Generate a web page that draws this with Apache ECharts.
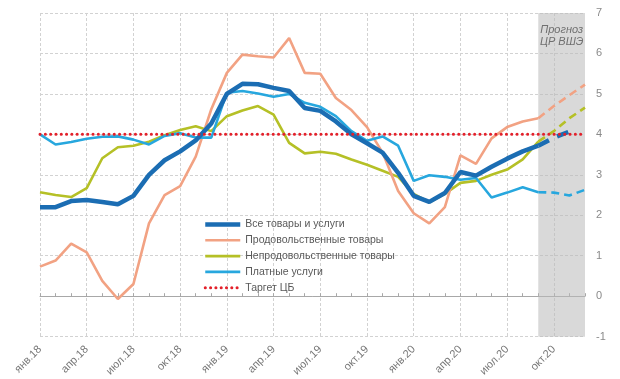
<!DOCTYPE html>
<html><head><meta charset="utf-8">
<script src="https://cdn.jsdelivr.net/npm/echarts@6/dist/echarts.min.js"></script>
<style>html,body{margin:0;padding:0;background:#fff}#c{width:620px;height:379px}</style>
</head><body><div id="c"></div>
<script>
const months = [
 'янв.18','фев.18','мар.18','апр.18','май.18','июн.18','июл.18','авг.18','сен.18','окт.18','ноя.18','дек.18',
 'янв.19','фев.19','мар.19','апр.19','май.19','июн.19','июл.19','авг.19','сен.19','окт.19','ноя.19','дек.19',
 'янв.20','фев.20','мар.20','апр.20','май.20','июн.20','июл.20','авг.20','сен.20','окт.20','ноя.20','дек.20'
];
// Actual values Jan18..Sep20
const total = [2.2, 2.2, 2.35, 2.38, 2.33, 2.27, 2.48, 3.0, 3.36, 3.58, 3.85, 4.27,
  5.0, 5.25, 5.24, 5.15, 5.07, 4.65, 4.58, 4.32, 4.0, 3.78, 3.55, 3.05,
  2.48, 2.33, 2.55, 3.07, 2.98, 3.2, 3.4, 3.58, 3.72];
const food = [0.73, 0.88, 1.3, 1.08, 0.38, -0.07, 0.3, 1.8, 2.5, 2.72, 3.45, 4.62,
  5.52, 5.97, 5.93, 5.9, 6.38, 5.52, 5.5, 4.9, 4.6, 4.18, 3.55, 2.6,
  2.05, 1.8, 2.2, 3.48, 3.27, 3.9, 4.18, 4.32, 4.4];
const nonfood = [2.57, 2.5, 2.45, 2.67, 3.41, 3.68, 3.72, 3.82, 3.98, 4.11, 4.2, 4.08,
  4.45, 4.59, 4.7, 4.49, 3.79, 3.53, 3.57, 3.52, 3.38, 3.25, 3.1, 2.95,
  2.53, 2.32, 2.53, 2.8, 2.85, 3.0, 3.13, 3.38, 3.82];
const services = [4.0, 3.75, 3.81, 3.89, 3.94, 3.95, 3.87, 3.75, 3.96, 4.03, 3.92, 3.92,
  5.03, 5.07, 5.01, 4.93, 5.0, 4.78, 4.68, 4.45, 4.08, 3.84, 3.95, 3.72,
  2.85, 2.99, 2.95, 2.88, 2.92, 2.44, 2.56, 2.69, 2.57];
// Forecast values from Sep20
const forecastMonths = ['сен.20','окт.20','ноя.20','дек.20'];
const totalF = [3.72, 3.92, 4.07];
const foodF = [4.4, 4.7, 4.97, 5.23];
const nonfoodF = [3.82, 4.08, 4.4, 4.66];
const servicesF = [2.57, 2.56, 2.49, 2.63];
const target = 4;
const yTicks = [-1, 7, 1];

const names = ['Все товары и услуги','Продовольственные товары','Непродовольственные товары','Платные услуги','Таргет ЦБ'];
const colors = ['#1b6db3','#f2a283','#b5c026','#27a7de','#e3202a'];

function fc(arr){ const out = months.map(()=>'-'); const s = months.indexOf(forecastMonths[0]); arr.forEach((v,k)=>{out[s+k]=v;}); return out; }
const FONT = 'Liberation Sans, Arial, sans-serif';
const grid = '#d2d2d2';
const hide = {opacity:0, color:'transparent', borderWidth:0};

const chart = echarts.init(document.getElementById('c'));
chart.setOption({
  animation:false,
  grid:{left:40,right:35,top:13,bottom:42},
  legend:{
    orient:'vertical', left:198, top:214, padding:5, itemWidth:35, itemHeight:12, itemGap:4.8,
    itemStyle:hide,
    textStyle:{fontSize:10.5, color:'#595959', fontFamily:FONT},
    data:[
      {name:names[0], lineStyle:{width:4.5}, itemStyle:hide},
      {name:names[1], lineStyle:{width:2.6}, itemStyle:hide},
      {name:names[2], lineStyle:{width:2.6}, itemStyle:hide},
      {name:names[3], lineStyle:{width:2.6}, itemStyle:hide},
      {name:names[4], lineStyle:{width:3, type:[0.1,5.2], cap:'round'}, itemStyle:hide}
    ]
  },
  xAxis:[
    {type:'category', data:months, boundaryGap:false, position:'bottom',
     axisLine:{show:false, onZero:false}, axisTick:{show:false},
     axisLabel:{interval:2, rotate:45, fontSize:11, color:'#777', margin:11, fontFamily:FONT},
     splitLine:{show:true, interval:2, lineStyle:{color:grid, type:[3,2], width:1}}},
    {type:'category', data:months, boundaryGap:false, position:'top',
     axisLine:{show:true, onZero:true, lineStyle:{color:'#a8a8a8', width:1}},
     axisTick:{show:true, interval:0, length:3, lineStyle:{color:'#a8a8a8'}},
     axisLabel:{show:false}, splitLine:{show:false}}
  ],
  yAxis:{type:'value', position:'right', min:yTicks[0], max:yTicks[1], interval:yTicks[2],
    axisLine:{show:false}, axisTick:{show:false},
    axisLabel:{fontSize:11, color:'#8a8a8a', margin:11, fontFamily:FONT},
    splitLine:{lineStyle:{color:grid, type:[3,2], width:1}}},
  series:[
    {name:'shade', type:'line', data:[], z:1, silent:true,
     markArea:{silent:true, itemStyle:{color:'rgba(185,185,185,0.55)'},
       label:{show:true, position:'insideTop', distance:11, formatter:'Прогноз\nЦР ВШЭ',
         fontStyle:'italic', fontSize:11, lineHeight:12, color:'#707070', fontFamily:FONT},
       data:[[{xAxis:forecastMonths[0]},{xAxis:forecastMonths[forecastMonths.length-1]}]]}},
    {name:names[2], type:'line', data:nonfood, symbol:'none', color:colors[2], lineStyle:{width:2.6, color:colors[2]}, z:3},
    {name:names[1], type:'line', data:food, symbol:'none', color:colors[1], lineStyle:{width:2.6, color:colors[1]}, z:3},
    {name:names[3], type:'line', data:services, symbol:'none', color:colors[3], lineStyle:{width:2.6, color:colors[3]}, z:3},
    {name:names[0], type:'line', data:total, symbol:'none', color:colors[0], lineStyle:{width:4.5, color:colors[0]}, z:4},
    {name:'f1', type:'line', data:fc(nonfoodF), symbol:'none', lineStyle:{width:2.6, color:colors[2], type:[8,5]}, z:3},
    {name:'f2', type:'line', data:fc(foodF), symbol:'none', lineStyle:{width:2.6, color:colors[1], type:[8,5]}, z:3},
    {name:'f3', type:'line', data:fc(servicesF), symbol:'none', lineStyle:{width:2.6, color:colors[3], type:[8,5]}, z:3},
    {name:'f0', type:'line', data:fc(totalF), symbol:'none', lineStyle:{width:4.5, color:colors[0], type:[12,9]}, z:4},
    {name:names[4], type:'line', data:months.map(()=>target), symbol:'none', color:colors[4],
     lineStyle:{width:3, color:colors[4], type:[0.1,5.2], cap:'round'}, z:5}
  ]
});
</script>
</body></html>
